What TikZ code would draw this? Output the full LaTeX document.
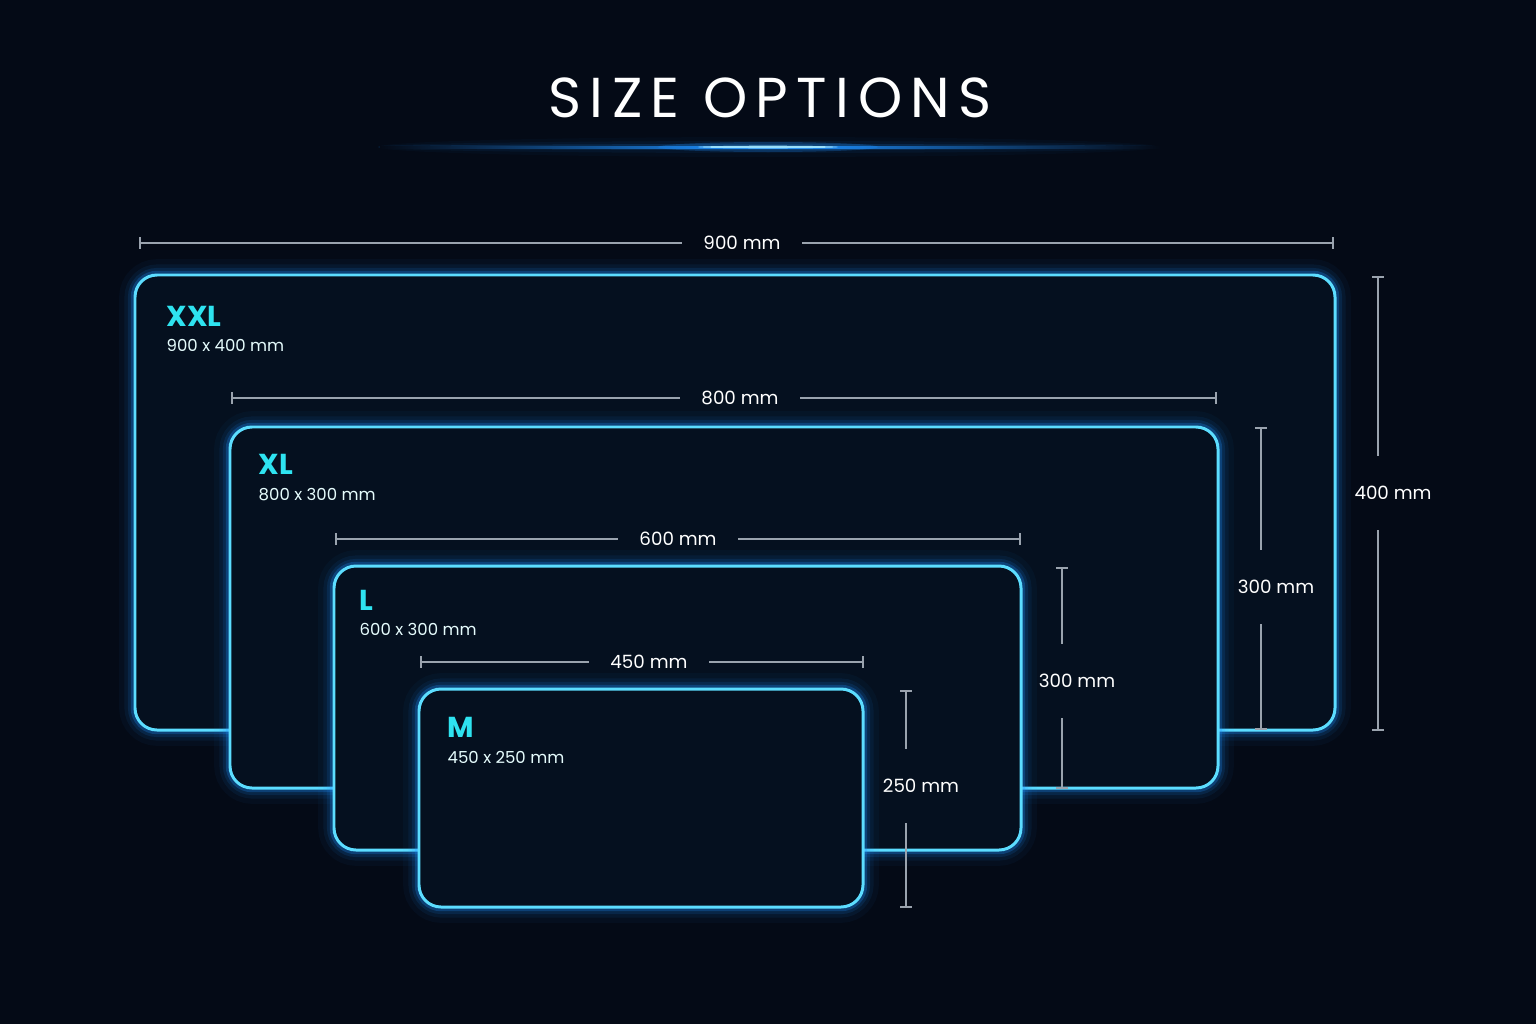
\documentclass[tikz,border=0pt]{standalone}
\usepackage{fontspec}
\setmainfont{Poppins}
\definecolor{night}{HTML}{040A16}
\definecolor{padfill}{HTML}{05101F}
\definecolor{neon}{HTML}{5CDDFF}
\definecolor{glow}{HTML}{1E90FF}
\definecolor{tag}{HTML}{2EE3F0}
\definecolor{rule}{HTML}{9AA3AE}
\tikzset{
  pad/.style={draw=neon,line width=0.85pt,fill=padfill,rounded corners=2.2mm},
  halo/.style={draw=glow,rounded corners=2.2mm},
  size/.style={anchor=base west,text=tag,font=\fontsize{8.2}{9}\selectfont\bfseries,inner sep=0pt},
  dims/.style={anchor=base west,text=white!88!tag,font=\fontsize{4.7}{6}\selectfont,inner sep=0pt},
  measure/.style={text=white!92,font=\fontsize{5.2}{6}\selectfont,inner sep=0pt},
  dimline/.style={draw=rule,line width=0.35pt},
  tick/.style={draw=rule,line width=0.35pt}
}
% one glowing pad: name, corners
\newcommand\glowpad[5]{%
  \foreach \w/\o in {9/0.04,6/0.07,4/0.12,2.4/0.25}
    \draw[halo,line width=\w pt,opacity=\o] (#2,#3) rectangle (#4,#5);
  \draw[pad] (#2,#3) rectangle (#4,#5);
  \coordinate (#1nw) at (#2,#3);
}
\begin{document}
\begin{tikzpicture}[x=0.01cm,y=-0.01cm]
  \fill[night] (0,0) rectangle (1536,1024);
  \useasboundingbox (0,0) rectangle (1536,1024);

  % title
  \node[text=white,font=\fontsize{16}{16}\selectfont\addfontfeature{LetterSpace=15}] (title) at (770,98) {SIZE OPTIONS};
  \foreach \h/\o in {10/0.03,6/0.06,3/0.15} {
    \fill[glow,opacity=\o] (768,147) ellipse (390 and \h);
  }
  \shade[left color=night,right color=glow] (380,146) rectangle (768,148);
  \shade[left color=glow,right color=night] (768,146) rectangle (1160,148);
  \fill[glow,opacity=0.25] (768,147) ellipse (110 and 5);
  \fill[white!60!cyan] (768,147) ellipse (70 and 1.3);

  % pads, largest first
  \glowpad{xxl}{135}{275}{1335}{730}
  \glowpad{xl}{230}{427}{1218}{788}
  \glowpad{l}{334}{566}{1021}{850}
  \glowpad{m}{419}{689}{863}{907}

  \node[size] (xxltag) at (166,326) {XXL};
  \node[dims] (xxldim) at (166,351) {900 x 400 mm};
  \node[size] (xltag) at (258,474) {XL};
  \node[dims] (xldim) at (258,500) {800 x 300 mm};
  \node[size] (ltag) at (359,610) {L};
  \node[dims] (ldim) at (359,635) {600 x 300 mm};
  \node[size] (mtag) at (447,737) {M};
  \node[dims] (mdim) at (447,763) {450 x 250 mm};

  % width measures
  \foreach \n/\a/\b/\y/\c/\t in {w900/140/1333/243/742/900 mm,
                                 w800/232/1216/398/740/800 mm,
                                 w600/336/1020/539/678/600 mm,
                                 w450/421/863/662/649/450 mm} {
    \coordinate (\n a) at (\a,\y);
    \coordinate (\n b) at (\b,\y);
    \node[measure,inner xsep=6pt] (\n) at (\c,\y) {\t};
    \draw[dimline] (\n a) -- (\n a -| \n.west);
    \draw[dimline] (\n b -| \n.east) -- (\n b);
    \draw[tick] ([yshift=-1.7pt]\n a) -- ([yshift=1.7pt]\n a);
    \draw[tick] ([yshift=-1.7pt]\n b) -- ([yshift=1.7pt]\n b);
  }

  % height measures
  \foreach \n/\x/\a/\b/\y/\t in {h400/1378/277/730/493/400 mm,
                                 h300a/1261/428/729/587/300 mm,
                                 h300b/1062/568/788/681/300 mm,
                                 h250/906/691/907/786/250 mm} {
    \coordinate (\n a) at (\x,\a);
    \coordinate (\n b) at (\x,\b);
    \node[measure,inner ysep=8.5pt] (\n) at (\x+15,\y) {\t};
    \draw[dimline] (\n a) -- (\n a |- \n.north);
    \draw[dimline] (\n b |- \n.south) -- (\n b);
    \draw[tick] ([xshift=-1.7pt]\n a) -- ([xshift=1.7pt]\n a);
    \draw[tick] ([xshift=-1.7pt]\n b) -- ([xshift=1.7pt]\n b);
  }
\end{tikzpicture}
\end{document}
